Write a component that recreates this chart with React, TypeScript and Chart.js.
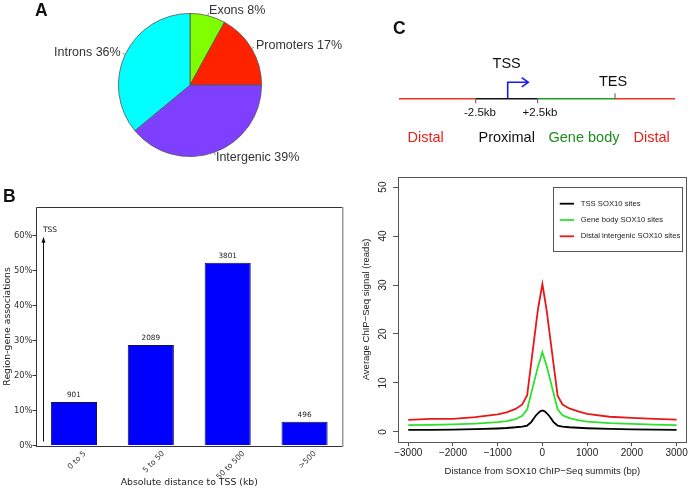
import React, { useEffect, useRef } from "react";
import { Chart, registerables } from "chart.js";

Chart.register(...registerables);

// ---------- Panel A data ----------
const regionLabels = ["Exons", "Promoters", "Intergenic", "Introns"];
const regionPercents = [8, 17, 39, 36];
const regionColors = ["#80ff00", "#ff2200", "#7f3fff", "#00ffff"];

// ---------- Panel B data ----------
const distanceBins = ["0 to 5", "5 to 50", "50 to 500", ">500"];
const associationPercents = [12.4, 28.7, 52.2, 6.8];
const regionCounts = [901, 2089, 3801, 496];
const percentTicks = [0, 10, 20, 30, 40, 50, 60];

// ---------- Panel C data ----------
const summitDistanceBp = [-3000, -2500, -2000, -1500, -1000, -800, -600, -450, -340, -250, -150, -100, -50, 0, 50, 100, 150, 250, 340, 450, 600, 800, 1000, 1500, 2000, 2500, 3000];
const tssSignal = [0.4, 0.43, 0.47, 0.55, 0.7, 0.8, 0.95, 1.1, 1.3, 2.0, 3.3, 3.8, 4.2, 4.4, 4.2, 3.8, 3.3, 2.0, 1.3, 1.1, 0.95, 0.85, 0.75, 0.6, 0.52, 0.45, 0.42];
const geneBodySignal = [1.4, 1.45, 1.55, 1.7, 2.0, 2.2, 2.6, 3.3, 4.6, 7.9, 11.5, 13.3, 14.8, 16.3, 14.8, 13.3, 11.5, 7.9, 4.6, 3.4, 2.8, 2.4, 2.1, 1.8, 1.65, 1.5, 1.4];
const distalSignal = [2.45, 2.65, 2.65, 3.0, 3.6, 4.0, 4.7, 5.6, 7.5, 14.1, 21.4, 25.0, 27.6, 30.2, 27.4, 24.5, 20.9, 13.8, 7.4, 5.6, 4.8, 4.2, 3.7, 3.1, 2.85, 2.65, 2.5];
const seriesLabels = ["TSS SOX10 sites", "Gene body SOX10 sites", "Distal intergenic SOX10 sites"];
const signalTicks = [0, 10, 20, 30, 40, 50];
const distanceTicks = [-3000, -2000, -1000, 0, 1000, 2000, 3000];

const ARIAL = '"Liberation Sans", Arial, sans-serif';
const DEJAVU = '"DejaVu Sans", sans-serif';

const pieLabelPlugin = {
  id: "pieLabels",
  afterDatasetsDraw(chart: any) {
    const ctx = chart.ctx;
    const meta = chart.getDatasetMeta(0);
    ctx.save();
    ctx.font = `12.5px ${ARIAL}`;
    ctx.fillStyle = "#333";
    ctx.strokeStyle = "#777";
    ctx.lineWidth = 0.8;
    ctx.textBaseline = "middle";
    meta.data.forEach((arc: any, i: number) => {
      const p = arc.getProps(["x", "y", "startAngle", "endAngle", "outerRadius"], true);
      const mid = (p.startAngle + p.endAngle) / 2;
      const c = Math.cos(mid);
      const s = Math.sin(mid);
      ctx.beginPath();
      ctx.moveTo(p.x + c * p.outerRadius, p.y + s * p.outerRadius);
      ctx.lineTo(p.x + c * (p.outerRadius + 3), p.y + s * (p.outerRadius + 3));
      ctx.stroke();
      ctx.textAlign = c >= 0 ? "left" : "right";
      ctx.fillText(`${regionLabels[i]} ${regionPercents[i]}%`, p.x + c * (p.outerRadius + 5), p.y + s * (p.outerRadius + 5));
    });
    ctx.restore();
  },
};

const barExtrasPlugin = {
  id: "barExtras",
  afterDraw(chart: any) {
    const ctx = chart.ctx;
    const { left, right, top, bottom } = chart.chartArea;
    const yScale = chart.scales.y;
    const xScale = chart.scales.x;
    ctx.save();
    // frame
    ctx.strokeStyle = "#333";
    ctx.lineWidth = 1;
    ctx.beginPath();
    ctx.moveTo(Math.round(left) + 0.5, Math.round(bottom) + 0.5);
    ctx.lineTo(Math.round(left) + 0.5, Math.round(top) + 0.5);
    ctx.lineTo(Math.round(right), Math.round(top) + 0.5);
    ctx.moveTo(Math.round(left), Math.round(bottom) + 0.5);
    ctx.lineTo(Math.round(right), Math.round(bottom) + 0.5);
    ctx.stroke();
    ctx.strokeStyle = "#999";
    ctx.lineWidth = 1.5;
    ctx.beginPath();
    ctx.moveTo(Math.round(right) - 0.25, Math.round(top));
    ctx.lineTo(Math.round(right) - 0.25, Math.round(bottom) + 1);
    ctx.stroke();

    // counts above bars
    const meta = chart.getDatasetMeta(0);
    ctx.fillStyle = "#222";
    ctx.font = `7.3px ${DEJAVU}`;
    ctx.textAlign = "center";
    ctx.textBaseline = "middle";
    meta.data.forEach((bar: any, i: number) => {
      ctx.fillText(String(regionCounts[i]), bar.x, bar.y - 7);
    });

    // rotated category labels
    ctx.font = `7.6px ${DEJAVU}`;
    ctx.fillStyle = "#333";
    distanceBins.forEach((lab, i) => {
      const x = xScale.getPixelForValue(i);
      const w = ctx.measureText(lab).width;
      const side = (w + 7) * Math.SQRT1_2;
      ctx.save();
      ctx.translate(x + 3, bottom + 4.5 + side / 2);
      ctx.rotate(-Math.PI / 4);
      ctx.fillText(lab, 0, 0);
      ctx.restore();
    });

    // TSS arrow
    const ax = left + 8;
    const aTop = yScale.getPixelForValue(59.6);
    ctx.strokeStyle = "#111";
    ctx.fillStyle = "#111";
    ctx.lineWidth = 1;
    ctx.beginPath();
    ctx.moveTo(ax, bottom - 4);
    ctx.lineTo(ax, aTop + 4);
    ctx.stroke();
    ctx.beginPath();
    ctx.moveTo(ax, aTop);
    ctx.lineTo(ax - 2, aTop + 6);
    ctx.lineTo(ax + 2, aTop + 6);
    ctx.closePath();
    ctx.fill();
    ctx.font = `7.5px ${DEJAVU}`;
    ctx.textAlign = "left";
    ctx.textBaseline = "alphabetic";
    ctx.fillText("TSS", ax - 0.5, aTop - 5);
    ctx.restore();
  },
};

const lineExtrasPlugin = {
  id: "lineExtras",
  afterDraw(chart: any) {
    const ctx = chart.ctx;
    const { left, right, top, bottom } = chart.chartArea;
    const yScale = chart.scales.y;
    ctx.save();
    ctx.strokeStyle = "#555";
    ctx.lineWidth = 1;
    ctx.strokeRect(Math.round(left) + 0.5, Math.round(top) + 0.5, Math.round(right) - Math.round(left) - 1, Math.round(bottom) - Math.round(top));

    // rotated y tick labels
    ctx.fillStyle = "#222";
    ctx.font = `10px ${ARIAL}`;
    ctx.textAlign = "center";
    ctx.textBaseline = "middle";
    signalTicks.forEach((v) => {
      const y = yScale.getPixelForValue(v);
      ctx.save();
      ctx.translate(left - 14.2, y);
      ctx.rotate(-Math.PI / 2);
      ctx.fillText(String(v), 0, 0);
      ctx.restore();
    });

    // legend
    const lx = Math.round(right - 134);
    const ly = Math.round(top + 10);
    const lw = 129;
    const lh = 64;
    ctx.strokeStyle = "#555";
    ctx.lineWidth = 1;
    ctx.strokeRect(lx + 0.5, ly + 0.5, lw, lh);
    ctx.font = `7.7px ${ARIAL}`;
    ctx.textAlign = "left";
    chart.data.datasets.forEach((ds: any, i: number) => {
      const yy = ly + 16.7 + i * 16.3;
      ctx.strokeStyle = ds.borderColor;
      ctx.lineWidth = 1.8;
      ctx.beginPath();
      ctx.moveTo(lx + 6.7, yy);
      ctx.lineTo(lx + 21, yy);
      ctx.stroke();
      ctx.fillStyle = "#222";
      ctx.fillText(ds.label, lx + 27.7, yy);
    });
    ctx.restore();
  },
};

export default function App() {
  const pieRef = useRef<HTMLCanvasElement>(null);
  const barRef = useRef<HTMLCanvasElement>(null);
  const lineRef = useRef<HTMLCanvasElement>(null);

  useEffect(() => {
    const pie = new Chart(pieRef.current as HTMLCanvasElement, {
      type: "pie",
      data: {
        labels: regionLabels,
        datasets: [
          {
            data: regionPercents,
            backgroundColor: regionColors,
            borderColor: "#555",
            borderWidth: 0.8,
          },
        ],
      },
      options: {
        responsive: false,
        animation: false,
        layout: { padding: { left: 118, top: 13, right: 88, bottom: 18 } },
        plugins: { legend: { display: false }, tooltip: { enabled: false } },
      },
      plugins: [pieLabelPlugin],
    } as any);

    const bar = new Chart(barRef.current as HTMLCanvasElement, {
      type: "bar",
      data: {
        labels: distanceBins,
        datasets: [
          {
            data: associationPercents,
            backgroundColor: "#0000ff",
            borderColor: "#14143c",
            borderWidth: 1,
            categoryPercentage: 1,
            barPercentage: 0.6,
          },
        ],
      },
      options: {
        responsive: false,
        animation: false,
        layout: { padding: { top: 27.3, right: 7, left: 0, bottom: 0 } },
        plugins: { legend: { display: false }, tooltip: { enabled: false } },
        scales: {
          x: {
            grid: { display: false },
            border: { display: false },
            ticks: { display: false },
            title: {
              display: true,
              text: "Absolute distance to TSS (kb)",
              font: { family: DEJAVU, size: 9.3 },
              color: "#222",
              padding: { top: 0, bottom: 7.2 },
            },
            afterFit: (s: any) => {
              s.height = 49.5;
            },
          },
          y: {
            min: 0,
            max: 68,
            afterBuildTicks: (s: any) => {
              s.ticks = percentTicks.map((v) => ({ value: v }));
            },
            grid: { display: true, drawOnChartArea: false, drawTicks: true, tickLength: 3, color: "#333" },
            border: { display: false },
            ticks: {
              callback: (v: any) => `${v}%`,
              font: { family: DEJAVU, size: 8.4 },
              color: "#333",
              padding: 0,
            },
            title: {
              display: true,
              text: "Region-gene associations",
              font: { family: DEJAVU, size: 9.3 },
              color: "#222",
              padding: { top: 2, bottom: 0 },
            },
            afterFit: (s: any) => {
              s.width = 35.5;
            },
          },
        },
      },
      plugins: [barExtrasPlugin],
    } as any);

    const seriesValues = [tssSignal, geneBodySignal, distalSignal];
    const seriesColors = ["#000000", "#2ee02e", "#e81818"];
    const line = new Chart(lineRef.current as HTMLCanvasElement, {
      type: "line",
      data: {
        datasets: seriesValues.map((vals, k) => ({
          label: seriesLabels[k],
          data: summitDistanceBp.map((x, i) => ({ x, y: vals[i] })),
          borderColor: seriesColors[k],
          borderWidth: 1.8,
          pointRadius: 0,
          tension: 0,
          fill: false,
        })),
      },
      options: {
        responsive: false,
        animation: false,
        layout: { padding: { top: 7.3, right: 2.7, left: 0, bottom: 0 } },
        plugins: { legend: { display: false }, tooltip: { enabled: false } },
        scales: {
          x: {
            type: "linear",
            min: -3240,
            max: 3240,
            afterBuildTicks: (s: any) => {
              s.ticks = distanceTicks.map((v) => ({ value: v }));
            },
            grid: { display: true, drawOnChartArea: false, drawTicks: true, tickLength: 4.5, color: "#555" },
            border: { display: false },
            ticks: {
              autoSkip: false,
              maxRotation: 0,
              callback: (v: any) => (v < 0 ? "\u2212" + Math.abs(v) : String(v)),
              font: { family: ARIAL, size: 10 },
              color: "#222",
              padding: 1,
            },
            title: {
              display: true,
              text: "Distance from SOX10 ChIP\u2212Seq summits (bp)",
              font: { family: ARIAL, size: 9.5 },
              color: "#222",
              padding: { top: 0, bottom: 18.3 },
            },
            afterFit: (s: any) => {
              s.height = 53.3;
            },
          },
          y: {
            type: "linear",
            min: -2,
            max: 52,
            afterBuildTicks: (s: any) => {
              s.ticks = signalTicks.map((v) => ({ value: v }));
            },
            grid: { display: true, drawOnChartArea: false, drawTicks: true, tickLength: 4.5, color: "#555" },
            border: { display: false },
            ticks: { display: false },
            title: {
              display: true,
              text: "Average ChIP\u2212Seq signal (reads)",
              font: { family: ARIAL, size: 9.5 },
              color: "#222",
              padding: { top: 1, bottom: 0 },
            },
            afterFit: (s: any) => {
              s.width = 37.5;
            },
          },
        },
      },
      plugins: [lineExtrasPlugin],
    } as any);

    return () => {
      pie.destroy();
      bar.destroy();
      line.destroy();
    };
  }, []);

  const abs = (l: number, t: number, w: number, h: number): React.CSSProperties => ({
    position: "absolute",
    left: l,
    top: t,
    width: w,
    height: h,
  });

  return (
    <div style={{ position: "absolute", left: 0, top: 0, width: 690, height: 495, background: "#fff", overflow: "hidden" }}>
      <canvas ref={pieRef} width={350} height={175} style={abs(0, 0, 350, 175)} />
      <canvas ref={barRef} width={350} height={315} style={abs(0, 180, 350, 315)} />
      <canvas ref={lineRef} width={330} height={325} style={abs(360, 170, 330, 325)} />
      <svg width={690} height={495} style={{ position: "absolute", left: 0, top: 0, pointerEvents: "none" }}>
        <g fontFamily={ARIAL}>
          <text x={35} y={16} fontSize={17.5} fontWeight="bold" fill="#111">A</text>
          <text x={3} y={201.7} fontSize={17.5} fontWeight="bold" fill="#111">B</text>
          <text x={393} y={34.3} fontSize={17.5} fontWeight="bold" fill="#111">C</text>

          {/* gene schematic */}
          <line x1={399} y1={98.7} x2={475.7} y2={98.7} stroke="#ee3322" strokeWidth={1.5} />
          <line x1={475.7} y1={98.7} x2={537.7} y2={98.7} stroke="#111" strokeWidth={1.5} />
          <line x1={537.7} y1={98.7} x2={615} y2={98.7} stroke="#229922" strokeWidth={1.5} />
          <line x1={615} y1={98.7} x2={675} y2={98.7} stroke="#ee3322" strokeWidth={1.5} />
          <line x1={475.7} y1={98.7} x2={475.7} y2={103.3} stroke="#555" strokeWidth={1} />
          <line x1={537.7} y1={98.7} x2={537.7} y2={103.3} stroke="#555" strokeWidth={1} />
          <line x1={615} y1={93.3} x2={615} y2={98.7} stroke="#555" strokeWidth={1} />
          <path d="M507.7 98 V82.3 H527.5" stroke="#1a1aee" strokeWidth={1.6} fill="none" />
          <polyline points="521.7,77.7 528.3,82.3 521.7,86.9" stroke="#1a1aee" strokeWidth={1.6} fill="none" />

          <text x={506.7} y={67.7} fontSize={14.5} textAnchor="middle" fill="#111">TSS</text>
          <text x={613} y={85.7} fontSize={14.5} textAnchor="middle" fill="#111">TES</text>
          <text x={480} y={116} fontSize={11.5} textAnchor="middle" fill="#111">-2.5kb</text>
          <text x={540} y={116} fontSize={11.5} textAnchor="middle" fill="#111">+2.5kb</text>
          <text x={425.7} y={141.5} fontSize={14.5} textAnchor="middle" fill="#e8201a">Distal</text>
          <text x={506.7} y={141.5} fontSize={14.5} textAnchor="middle" fill="#111">Proximal</text>
          <text x={584} y={141.5} fontSize={14.5} textAnchor="middle" fill="#1e8c1e">Gene body</text>
          <text x={651.7} y={141.5} fontSize={14.5} textAnchor="middle" fill="#e8201a">Distal</text>
        </g>
      </svg>
    </div>
  );
}
